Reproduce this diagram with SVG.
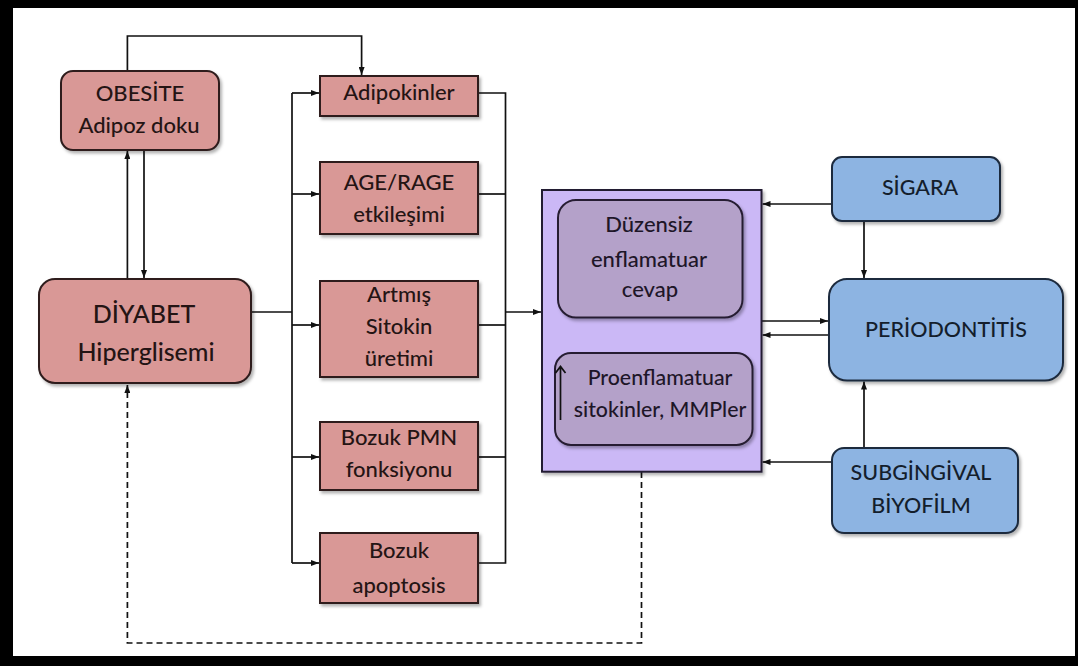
<svg xmlns="http://www.w3.org/2000/svg" width="1078" height="666" viewBox="0 0 1078 666">
<style>
text{font-family:Lato,"Open Sans","Liberation Sans",sans-serif;text-anchor:middle;font-weight:500}
.pk{fill:#d99896;stroke:#2e1c1c;stroke-width:2}
.bl{fill:#8db4e2;stroke:#1c2a3e;stroke-width:2}
.pu{fill:#cbb8f6;stroke:#231c33;stroke-width:2}
.pi{fill:#b4a1c9;stroke:#261e33;stroke-width:2}
.tp{fill:#241414;font-size:22px}
.tb{fill:#141e2c;font-size:21.5px}
.ti{fill:#1e1628;font-size:21.3px}
.tj{fill:#1e1628;font-size:22px}
.big{font-size:25px}
.ln{fill:none;stroke:#111;stroke-width:1.7}
.ds{fill:none;stroke:#111;stroke-width:1.7;stroke-dasharray:6 4}
.sh{filter:url(#shadow)}
</style>
<defs>
<marker id="ah" viewBox="0 0 8 6" refX="8" refY="3" markerWidth="8" markerHeight="6" markerUnits="userSpaceOnUse" orient="auto">
<path d="M0,0 L8,3 L0,6 z" fill="#111"/>
</marker>
<filter id="shadow" x="-10%" y="-10%" width="125%" height="130%">
<feDropShadow dx="2" dy="2.5" stdDeviation="1.5" flood-color="#000" flood-opacity="0.3"/>
</filter>
</defs>
<rect x="0" y="0" width="1078" height="666" fill="#fff"/>
<g id="frame" fill="#000">
<rect x="0" y="0" width="1078" height="8"/>
<rect x="0" y="0" width="13" height="666"/>
<rect x="1075" y="0" width="3" height="666"/>
<rect x="0" y="656" width="1078" height="10"/>
</g>
<g id="connectors">
<path class="ln" d="M127.4,71 V36 H361.6 V75" marker-end="url(#ah)"/>
<path class="ln" d="M127.4,279 V151" marker-end="url(#ah)"/>
<path class="ln" d="M144,150 V278" marker-end="url(#ah)"/>
<path class="ln" d="M251,312 H292"/>
<path class="ln" d="M292,93 V563"/>
<path class="ln" d="M292,93 H319" marker-end="url(#ah)"/>
<path class="ln" d="M292,194 H319" marker-end="url(#ah)"/>
<path class="ln" d="M292,325 H319" marker-end="url(#ah)"/>
<path class="ln" d="M292,457 H319" marker-end="url(#ah)"/>
<path class="ln" d="M292,563 H319" marker-end="url(#ah)"/>
<path class="ln" d="M478,93 H505.5 V563 H478"/>
<path class="ln" d="M478,194 H505.5"/>
<path class="ln" d="M478,325 H505.5"/>
<path class="ln" d="M478,457 H505.5"/>
<path class="ln" d="M505.5,312 H541" marker-end="url(#ah)"/>
<path class="ds" d="M641.5,472 V643 H127.4 V385" marker-end="url(#ah)"/>
<path class="ln" d="M642,353 V319" marker-end="url(#ah)"/>
<path class="ln" d="M662,318 V352" marker-end="url(#ah)"/>
<path class="ln" d="M832,204 H762.5" marker-end="url(#ah)"/>
<path class="ln" d="M864,221 V278" marker-end="url(#ah)"/>
<path class="ln" d="M761.5,321 H828" marker-end="url(#ah)"/>
<path class="ln" d="M829,335 H762.5" marker-end="url(#ah)"/>
<path class="ln" d="M864,448 V381.5" marker-end="url(#ah)"/>
<path class="ln" d="M832,462 H762.5" marker-end="url(#ah)"/>
</g>
<g id="obesite">
<rect class="pk sh" x="61" y="71" width="158" height="79" rx="12"/>
<text class="tp" x="140" y="101">OBESİTE</text>
<text class="tp" x="139" y="133">Adipoz doku</text>
</g>
<g id="diyabet">
<rect class="pk sh" x="39" y="279" width="212" height="104" rx="16"/>
<text class="tp big" x="144" y="323">DİYABET</text>
<text class="tp big" x="146" y="361">Hiperglisemi</text>
</g>
<g id="adipokinler">
<rect class="pk sh" x="320" y="76" width="158" height="40"/>
<text class="tp" x="399" y="100">Adipokinler</text>
</g>
<g id="age-rage">
<rect class="pk sh" x="320" y="162" width="158" height="72"/>
<text class="tp" x="399" y="190">AGE/RAGE</text>
<text class="tp" x="399" y="221.5">etkileşimi</text>
</g>
<g id="sitokin">
<rect class="pk sh" x="320" y="281" width="158" height="96"/>
<text class="tp" x="399" y="302">Artmış</text>
<text class="tp" x="399" y="334">Sitokin</text>
<text class="tp" x="399" y="366">üretimi</text>
</g>
<g id="pmn">
<rect class="pk sh" x="320" y="422" width="158" height="68"/>
<text class="tp" x="399" y="445">Bozuk PMN</text>
<text class="tp" x="399" y="476.5">fonksiyonu</text>
</g>
<g id="apoptosis">
<rect class="pk sh" x="320" y="533" width="158" height="70"/>
<text class="tp" x="399" y="558">Bozuk</text>
<text class="tp" x="399" y="593">apoptosis</text>
</g>
<g id="enflamasyon">
<rect class="pu sh" x="542" y="190" width="219.5" height="281.7"/>
<g id="duzensiz">
<rect class="pi sh" x="558" y="200" width="184.5" height="117.5" rx="18"/>
<text class="tj" x="649" y="231.5">Düzensiz</text>
<text class="tj" x="649" y="266.5">enflamatuar</text>
<text class="tj" x="650" y="296.5">cevap</text>
</g>
<g id="proenflamatuar">
<rect class="pi sh" x="555" y="353" width="197.5" height="92" rx="16"/>
<path class="ln" d="M560.5,420 V367 M555.5,373 L560.5,366.5 L565.5,373"/>
<text class="ti" x="660" y="385">Proenflamatuar</text>
<text class="ti" x="660" y="416.5">sitokinler, MMPler</text>
</g>
</g>
<g id="sigara">
<rect class="bl sh" x="832" y="157" width="168" height="64" rx="10"/>
<text class="tb" x="920" y="195">SİGARA</text>
</g>
<g id="periodontitis">
<rect class="bl sh" x="829" y="279" width="234" height="101.5" rx="18"/>
<text class="tb" x="946" y="336.5">PERİODONTİTİS</text>
</g>
<g id="biyofilm">
<rect class="bl sh" x="832" y="448" width="186" height="85" rx="12"/>
<text class="tb" x="921" y="480">SUBGİNGİVAL</text>
<text class="tb" x="921" y="513">BİYOFİLM</text>
</g>
</svg>
